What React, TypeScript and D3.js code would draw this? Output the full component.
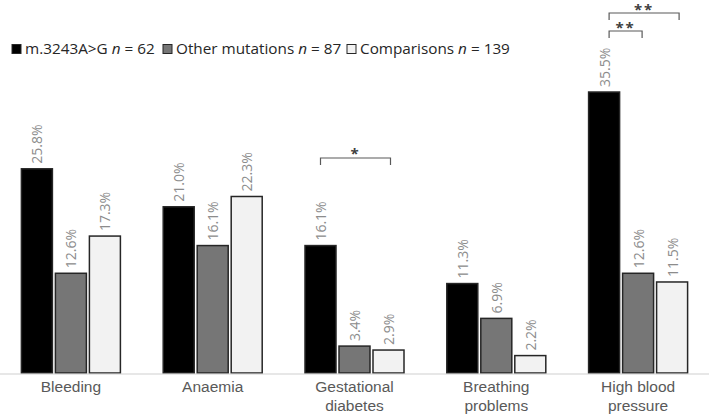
import React from "react";
import * as d3 from "d3";

const categories = [
  ["Bleeding"],
  ["Anaemia"],
  ["Gestational", "diabetes"],
  ["Breathing", "problems"],
  ["High blood", "pressure"],
];
const seriesNames = ["m.3243A>G", "Other mutations", "Comparisons"];
const seriesN = [62, 87, 139];
const m3243 = [25.8, 21.0, 16.1, 11.3, 35.5];
const otherMut = [12.6, 16.1, 3.4, 6.9, 12.6];
const comparisons = [17.3, 22.3, 2.9, 2.2, 11.5];
const valueLabels = [
  ["25.8%", "21.0%", "16.1%", "11.3%", "35.5%"],
  ["12.6%", "16.1%", "3.4%", "6.9%", "12.6%"],
  ["17.3%", "22.3%", "2.9%", "2.2%", "11.5%"],
];
// significance: category index, from series, to series, label
const sigCategory = [2, 4, 4];
const sigFrom = [0, 0, 0];
const sigTo = [2, 1, 2];
const sigLabel = ["*", "**", "**"];

const W = 709;
const H = 416;
const fills = ["#000000", "#767676", "#f2f2f2"];

export default function App() {
  const series = [m3243, otherMut, comparisons];
  const catKeys = categories.map((c) => c.join(" "));
  const x0 = d3.scaleBand<string>().domain(catKeys).range([0, W]).paddingInner(0);
  const groupW = 99;
  const x1 = d3
    .scaleBand<number>()
    .domain([0, 1, 2])
    .range([0, groupW])
    .paddingInner(3 / 34)
    .paddingOuter(0);
  const y = d3.scaleLinear().domain([0, 40]).range([373, 373 - 40 * 7.915]);
  const gx = (i: number) => (x0(catKeys[i]) as number) + x0.bandwidth() / 2 - groupW / 2;
  const bw = x1.bandwidth();
  const barCenter = (ci: number, si: number) => gx(ci) + (x1(si) as number) + bw / 2;

  // bracket geometry
  const bracketTop = [158, 31, 13];
  const bracketOffL = [0, 5, 5];
  const bracketOffR = [2, 4, 7];
  const starY = [159, 33, 15];

  const legendX = [12, 163, 347];

  const labelFont = "'Open Sans', 'DejaVu Sans', sans-serif";

  return (
    <svg width={W} height={H} style={{ display: "block", position: "absolute", left: 0, top: 0 }}>
      <rect width={W} height={H} fill="#ffffff" />
      {/* legend */}
      {seriesNames.map((name, i) => (
        <g key={name}>
          <rect
            x={legendX[i]}
            y={44.5}
            width={9}
            height={9}
            fill={fills[i]}
            stroke="#262626"
            strokeWidth={1}
          />
          <text
            x={legendX[i] + 13}
            y={54}
            fontFamily={labelFont}
            fontSize={15.3}
            fill="#262626"
          >
            {name + " "}
            <tspan fontStyle="italic">n</tspan>
            {" = " + seriesN[i]}
          </text>
        </g>
      ))}
      {/* bars */}
      {series.map((vals, si) =>
        vals.map((v, ci) => {
          const bx = gx(ci) + (x1(si) as number);
          return (
            <g key={`${si}-${ci}`}>
              <rect
                x={bx}
                y={y(v)}
                width={bw}
                height={y(0) - y(v)}
                fill={fills[si]}
                stroke="#262626"
                strokeWidth={1.5}
              />
              <text
                transform={`translate(${bx + bw / 2},${y(v) - 5}) rotate(-90)`}
                dominantBaseline="central"
                fontFamily={labelFont}
                fontSize={14}
                fill="#8c8c8c"
              >
                {valueLabels[si][ci]}
              </text>
            </g>
          );
        })
      )}
      {/* axis line */}
      <line x1={0} x2={W} y1={374} y2={374} stroke="#d0d0d0" strokeWidth={1.2} />
      {/* category labels */}
      {categories.map((lines, ci) => (
        <text
          key={catKeys[ci]}
          x={(x0(catKeys[ci]) as number) + x0.bandwidth() / 2}
          y={392}
          textAnchor="middle"
          fontFamily="'Liberation Sans', Arial, sans-serif"
          fontSize={15.5}
          fill="#595959"
        >
          {lines.map((l, li) => (
            <tspan key={l} x={(x0(catKeys[ci]) as number) + x0.bandwidth() / 2} dy={li === 0 ? 0 : 19}>
              {l}
            </tspan>
          ))}
        </text>
      ))}
      {/* significance brackets */}
      {sigCategory.map((ci, k) => {
        const xl = barCenter(ci, sigFrom[k]) + bracketOffL[k];
        const xr = barCenter(ci, sigTo[k]) + bracketOffR[k];
        const t = bracketTop[k];
        return (
          <g key={k}>
            <path
              d={`M${xl},${t + 7}V${t}H${xr}V${t + 7}`}
              fill="none"
              stroke="#595959"
              strokeWidth={1.2}
            />
            <text
              x={(xl + xr) / 2}
              y={starY[k]}
              textAnchor="middle"
              fontFamily={labelFont}
              fontSize={15}
              fontWeight="bold"
              letterSpacing={2}
              fill="#404040"
            >
              {sigLabel[k]}
            </text>
          </g>
        );
      })}
    </svg>
  );
}
